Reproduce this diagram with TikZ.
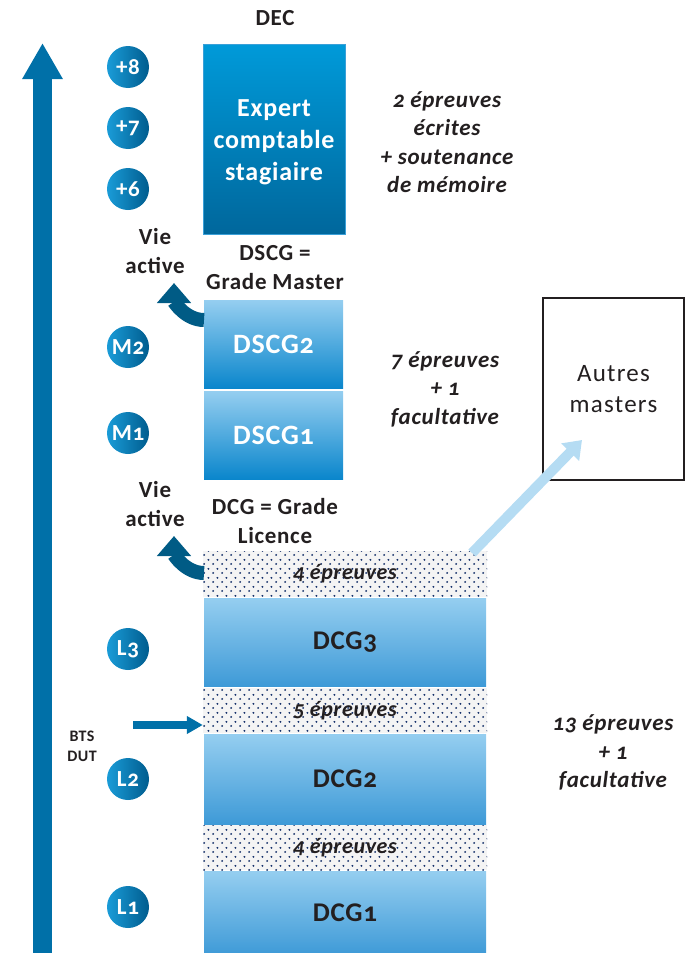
\documentclass[tikz,border=0pt]{standalone}
\usepackage{fontspec}
\setmainfont{Carlito}[Numbers=OldStyle,LetterSpace=3]
\newfontfamily\widefont{Carlito}[Numbers=OldStyle,LetterSpace=5]
\usetikzlibrary{arrows.meta,patterns.meta}
\definecolor{txt}{HTML}{231F20}
\definecolor{axisblue}{HTML}{0070A8}
\definecolor{curveblue}{HTML}{005B85}
\definecolor{lightarrow}{HTML}{B5DCF3}
\definecolor{dotblue}{HTML}{14306A}
\definecolor{bandgray}{HTML}{F4F4F4}
\definecolor{circA}{HTML}{1A9CD8}
\definecolor{circB}{HTML}{005C8E}
\definecolor{expA}{HTML}{009AD9}
\definecolor{expB}{HTML}{00679C}
\definecolor{expC}{HTML}{3AA0D8}
\definecolor{boxtop}{HTML}{95CEF0}
\definecolor{dscgbot}{HTML}{0A86CC}
\definecolor{dcgbot}{HTML}{3E9AD7}
\tikzdeclarepattern{
  name=bluedots,
  type=uncolored,
  bottom left={(0pt,0pt)},
  top right={(8.8pt,9pt)},
  tile size={(8.8pt,9pt)},
  code={
    \pgfpathcircle{\pgfpoint{2.2pt}{2.25pt}}{1.1pt}
    \pgfpathcircle{\pgfpoint{6.6pt}{6.75pt}}{1.1pt}
    \pgfusepath{fill}
  }
}
\begin{document}
\begin{tikzpicture}[x=1pt,y=-1pt,
  lbl/.style={text=txt,font=\fontsize{23}{28.5}\selectfont\bfseries,align=center,inner sep=0pt},
  itl/.style={text=txt,font=\fontsize{23}{28.5}\selectfont\bfseries\itshape,align=center,inner sep=0pt},
  yearc/.style={circle,minimum size=42pt,inner sep=0pt,left color=circA,right color=circB,
    text=white,font=\fontsize{23}{23}\selectfont\bfseries},
  expertbox/.style={rectangle,minimum width=142pt,minimum height=190pt,inner sep=0pt,
    top color=expA,bottom color=expB,draw=expC,line width=0.8pt},
  dscgbox/.style={rectangle,minimum width=139pt,minimum height=88pt,inner sep=0pt,
    top color=boxtop,bottom color=dscgbot,text=white,font=\fontsize{28}{30}\selectfont\bfseries},
  dcgbox/.style={rectangle,minimum width=282pt,inner sep=0pt,
    top color=boxtop,bottom color=dcgbot,text=txt,font=\fontsize{27}{30}\selectfont\bfseries},
  bandbox/.style={rectangle,minimum width=284pt,minimum height=45pt,inner sep=0pt,
    preaction={fill=bandgray},pattern=bluedots,pattern color=dotblue,
    text=txt,font=\fontsize{22}{24}\selectfont\bfseries\itshape},
  curvearrow/.style={draw=curveblue,line width=14pt,-{Triangle[length=20pt,width=33pt]}},
]
\useasboundingbox (0,0) rectangle (685,953);

% big vertical arrow
\coordinate (abot) at (42.5,960);
\coordinate (atop) at (42.5,43);
\draw[draw=axisblue,line width=19pt,-{Triangle[length=36pt,width=38pt]}] (abot) -- (atop);

% year circles
\node[yearc] (y8) at (128,67) {+8};
\node[yearc] (y7) at (128,128) {+7};
\node[yearc] (y6) at (128,189) {+6};
\node[yearc] (m2) at (128,347) {M2};
\node[yearc] (m1) at (128,433) {M1};
\node[yearc] (l3) at (128,649) {L3};
\node[yearc] (l2) at (128,779) {L2};
\node[yearc] (l1) at (128,907) {L1};

% DEC
\node[lbl] (dec) at (275,18) {DEC};
\node[expertbox] (expert) at (274,139) {};
\node[text=white,align=center,inner sep=0pt,font=\fontsize{26}{32}\selectfont\bfseries] (experttxt) at (274,142) {Expert\\comptable\\stagiaire};
\node[itl] (dectxt) at (447,142) {2 épreuves\\écrites\\+ soutenance\\de mémoire};

% DSCG
\node[lbl] (va1) at (155,251) {Vie\\active};
\node[lbl] (dscggrade) at (275,267.5) {DSCG =\\Grade Master};
\node[dscgbox] (dscg2) at (273.5,344) {DSCG2};
\node[dscgbox] (dscg1) at (273.5,435) {DSCG1};
\node[itl] (dscgtxt) at (445,389) {7 épreuves\\+ 1\\facultative};
\coordinate (c1s) at (204,320);
\coordinate (c1e) at (174,283);
\draw[curvearrow] (c1s) to[out=180,in=-90] (c1e);

% Autres masters
\node[draw=txt,line width=1.6pt,minimum width=141pt,minimum height=182pt,inner sep=0pt,
  text=txt,align=center,font=\fontsize{25}{31}\widefont] (autres) at (613.5,389) {Autres\\masters};

% DCG
\node[lbl] (va2) at (155,504) {Vie\\active};
\node[lbl] (dcggrade) at (275,521) {DCG = Grade\\Licence};
\node[bandbox,minimum height=46pt] (band1) at (345,574) {4 épreuves};
\node[dcgbox,minimum height=88pt] (dcg3) at (345,642) {DCG3};
\node[bandbox] (band2) at (345,710.5) {5 épreuves};
\node[dcgbox,minimum height=90pt] (dcg2) at (345,779) {DCG2};
\node[bandbox] (band3) at (345,847.5) {4 épreuves};
\node[dcgbox,minimum height=84pt] (dcg1) at (345,913) {DCG1};
\node[itl] (dcgtxt) at (613,752.5) {13 épreuves\\+ 1\\facultative};
\coordinate (c2s) at (204,573);
\coordinate (c2e) at (174,536);
\draw[curvearrow] (c2s) to[out=180,in=-90] (c2e);

% BTS DUT
\node[text=txt,font=\fontsize{16}{20}\selectfont\bfseries,align=center,inner sep=0pt] (bts) at (82,746) {BTS\\DUT};
\coordinate (btss) at (133,725);
\draw[draw=axisblue,line width=8pt,-{Triangle[length=16pt,width=17pt]}] (btss) -- (band2.west |- btss);

% arrow to Autres masters
\coordinate (lbs) at (472,553);
\coordinate (lbe) at (582,440);
\draw[draw=lightarrow,line width=10pt,-{Triangle[length=17pt,width=24pt]}] (lbs) -- (lbe);
\end{tikzpicture}
\end{document}
